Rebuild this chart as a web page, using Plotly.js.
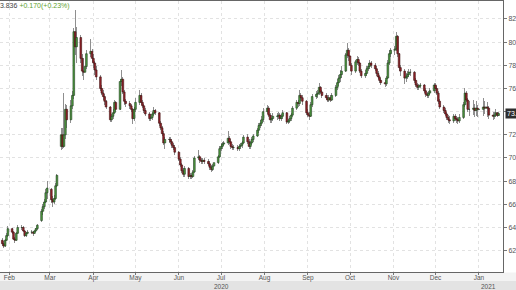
<!DOCTYPE html>
<html>
<head>
<meta charset="utf-8">
<script src="https://cdn.plot.ly/plotly-3.0.1.min.js"></script>
<style>html,body{margin:0;padding:0;background:#fff;}#chart{width:516px;height:290px;}</style>
</head>
<body>
<div id="chart"></div>
<script>
// Daily candles, Mon-Fri, starting week of 2020-01-27 (51 weeks)
const firstMonday = [2020, 0, 27];
const weekCount = 51;

const openP = [
 62.9,62.6,62.4,62.9,63.3, 63.9,63.6,63.0,62.9,63.5, 64.0,64.0,63.7,63.3,63.5, 63.6,63.6,63.5,63.7,63.9,
 64.6,65.4,65.8,66.2,67.0, 67.3,66.4,66.2,66.5,67.6, 71.0,72.0,71.0,72.0,74.2, 73.3,74.5,75.4,80.9,79.6,
 80.4,78.6,77.5,77.4,77.9, 79.0,79.2,78.6,78.2,77.6, 77.0,76.0,75.6,75.3,74.9, 74.4,73.3,73.6,73.9,74.8,
 74.2,76.6,76.8,75.7,74.9, 74.7,74.5,74.2,73.4,74.2, 74.8,75.4,74.8,74.5,74.1, 73.8,73.4,73.5,73.8,74.1,
 73.9,73.0,72.6,72.1,71.3, 71.6,71.6,71.4,71.1,70.9, 70.5,69.9,69.4,68.9,68.6, 69.1,68.4,68.5,68.4,68.8,
 70.0,70.1,69.8,69.7,69.8, 69.7,69.5,69.2,69.0,69.3, 69.6,70.1,70.8,71.0,71.2, 71.3,71.7,71.4,71.0,70.9,
 70.9,70.8,71.0,71.1,71.3, 71.8,71.4,71.0,71.3,71.6, 71.9,72.4,72.8,73.0,73.3, 74.0,74.3,73.7,73.3,73.4,
 73.6,73.6,73.7,73.4,73.6, 73.9,73.1,73.2,73.4,73.7, 74.3,74.8,74.7,75.4,75.2, 74.9,73.9,73.7,73.6,74.6,
 75.3,75.5,75.6,76.1,75.7, 75.4,75.2,75.0,75.2,75.0, 75.4,76.1,76.5,76.9,77.2, 77.5,78.9,79.3,78.8,78.0,
 77.5,78.3,78.5,78.2,77.5, 77.1,77.3,77.7,77.9,78.2, 78.0,77.7,77.3,77.0,76.7, 76.5,76.4,76.9,78.2,79.0,
 79.3,79.4,80.5,79.0,77.8, 77.5,76.9,77.0,77.2,77.4, 77.4,76.7,76.3,76.1,76.2, 76.3,75.8,75.5,75.4,75.6,
 75.8,76.3,76.0,75.6,74.9, 74.4,74.1,73.8,73.5,73.3, 73.2,73.6,73.4,73.3,73.2, 73.5,74.6,75.6,75.0,74.2,
 74.2,74.3,74.1,74.3,74.2, 74.2,74.4,74.3,74.4,74.3, 73.7,73.6,73.7,73.9,73.67
];
const highP = [
 63.1,62.8,63.0,63.5,64.1, 64.0,63.7,63.2,63.6,64.2, 64.2,64.1,63.8,63.6,63.8, 63.8,63.7,63.8,64.0,64.3,
 65.6,66.0,66.5,67.3,68.0, 67.4,66.7,66.8,67.8,68.6, 72.6,72.6,75.6,74.7,74.6, 75.0,75.8,81.2,82.8,81.3,
 80.6,79.0,78.6,78.4,79.3, 80.3,79.4,79.0,78.4,77.9, 77.2,76.3,75.9,75.5,75.0, 74.5,73.8,74.2,75.0,74.9,
 76.8,77.6,77.0,75.9,75.1, 74.9,74.7,74.3,74.4,75.2, 75.9,75.6,75.0,74.7,74.3, 74.0,73.8,74.0,74.4,74.2,
 74.0,73.2,72.8,72.3,71.8, 71.8,71.8,71.6,71.3,71.1, 70.6,70.1,69.6,69.1,69.3, 69.2,68.7,68.7,69.0,70.2,
 70.7,70.3,70.0,70.0,70.0, 69.9,69.7,69.4,69.5,69.8, 70.3,71.0,71.3,71.4,71.5, 72.3,71.9,71.6,71.2,71.1,
 71.1,71.2,71.3,71.5,72.0, 72.1,71.6,71.5,71.8,72.1, 72.6,73.0,73.3,73.6,74.3, 74.6,74.5,73.9,73.7,73.9,
 73.9,74.0,73.9,73.8,74.1, 74.0,73.4,73.6,73.9,74.5, 75.0,75.0,75.9,75.6,75.4, 75.0,74.2,74.0,74.8,75.5,
 75.8,75.9,76.5,76.2,75.9, 75.6,75.4,75.4,75.4,75.6, 76.3,76.8,77.2,77.6,77.9, 79.1,79.9,79.5,78.9,78.2,
 78.5,78.8,78.7,78.3,77.7, 77.6,77.9,78.2,78.5,78.4, 78.2,77.9,77.5,77.2,76.9, 76.7,77.1,78.5,79.3,79.5,
 79.7,80.9,80.6,79.1,78.0, 77.7,77.3,77.5,77.7,77.7, 77.5,76.9,76.5,76.4,76.5, 76.4,76.0,75.7,75.8,76.0,
 76.5,76.5,76.2,75.8,75.1, 74.6,74.3,74.0,73.7,73.6, 73.8,73.8,73.6,73.5,73.8, 74.8,76.0,75.8,75.2,74.9,
 75.0,74.7,74.9,74.6,74.5, 75.2,74.9,75.0,74.8,74.5, 74.0,74.0,74.2,74.0,74.0
];
const lowP = [
 62.4,62.2,62.3,62.8,63.2, 63.4,62.9,62.7,62.8,63.4, 63.8,63.6,63.2,63.2,63.4, 63.4,63.3,63.4,63.6,63.8,
 64.5,65.1,65.6,66.1,66.5, 66.1,65.8,66.0,66.4,67.5, 70.7,70.8,70.9,71.6,72.6, 73.0,74.2,75.1,78.9,78.2,
 78.2,77.1,76.7,77.0,77.7, 78.7,78.3,77.8,77.2,76.7, 75.8,75.4,75.0,74.6,74.2, 73.1,73.1,73.4,73.8,74.0,
 74.1,76.2,75.5,74.6,74.4, 74.2,74.0,72.9,73.2,74.0, 74.6,74.6,74.3,73.9,73.6, 73.2,73.2,73.3,73.6,73.7,
 72.8,72.4,71.9,71.1,70.8, 71.3,71.2,70.9,70.7,70.3, 69.7,69.2,68.7,68.4,68.4, 68.2,68.2,68.2,68.3,68.7,
 69.8,69.6,69.5,69.5,69.5, 69.3,69.0,68.8,68.9,69.2, 69.5,70.0,70.6,70.8,71.0, 71.1,71.2,70.8,70.7,70.7,
 70.6,70.6,70.8,70.9,71.2, 71.2,70.8,70.8,71.1,71.4, 71.8,72.2,72.6,72.8,73.1, 73.8,73.5,73.0,73.0,73.2,
 73.3,73.4,73.2,73.2,73.4, 72.9,72.9,73.0,73.2,73.5, 74.1,74.4,74.5,74.9,74.6, 73.7,73.5,73.3,73.5,74.4,
 75.1,75.2,75.4,75.5,75.2, 75.0,74.8,74.8,74.8,74.9, 75.3,75.9,76.2,76.6,76.9, 77.4,78.6,78.4,77.7,77.2,
 77.3,78.0,77.9,77.3,76.9, 76.9,77.1,77.5,77.7,77.8, 77.5,77.1,76.8,76.5,76.3, 76.1,76.2,76.8,78.0,78.7,
 78.9,79.2,78.7,77.5,77.1, 76.4,76.6,76.8,77.0,77.1, 76.5,76.1,75.9,75.9,76.0, 75.6,75.3,75.2,75.2,75.4,
 75.6,75.8,75.4,74.7,74.2, 73.9,73.6,73.3,73.0,72.9, 73.0,73.2,73.0,72.9,73.0, 73.4,74.4,74.8,74.0,73.6,
 73.7,73.5,73.6,73.5,73.9, 73.6,73.8,73.7,73.5,73.4, 73.3,73.4,73.5,73.5,73.6
];
const closeP = [
 62.6,62.4,62.9,63.3,63.9, 63.6,63.0,62.9,63.5,64.0, 64.0,63.7,63.3,63.5,63.6, 63.6,63.5,63.7,63.9,64.2,
 65.4,65.8,66.2,67.0,67.4, 66.4,66.2,66.5,67.6,68.5, 72.0,71.0,72.0,74.2,73.3, 74.5,75.4,80.9,79.6,80.4,
 78.6,77.5,77.4,77.9,79.0, 79.2,78.6,78.2,77.6,77.0, 76.0,75.6,75.3,74.9,74.4, 73.3,73.6,73.9,74.8,74.2,
 76.6,76.8,75.7,74.9,74.7, 74.5,74.2,73.4,74.2,74.8, 75.4,74.8,74.5,74.1,73.8, 73.4,73.5,73.8,74.1,73.9,
 73.0,72.6,72.1,71.3,71.6, 71.6,71.4,71.1,70.9,70.5, 69.9,69.4,68.9,68.6,69.1, 68.4,68.5,68.4,68.8,70.0,
 70.1,69.8,69.7,69.8,69.7, 69.5,69.2,69.0,69.3,69.6, 70.1,70.8,71.0,71.2,71.3, 71.7,71.4,71.0,70.9,70.9,
 70.8,71.0,71.1,71.3,71.8, 71.4,71.0,71.3,71.6,71.9, 72.4,72.8,73.0,73.3,74.0, 74.3,73.7,73.3,73.4,73.6,
 73.6,73.7,73.4,73.6,73.9, 73.1,73.2,73.4,73.7,74.3, 74.8,74.7,75.4,75.2,74.9, 73.9,73.7,73.6,74.6,75.3,
 75.5,75.6,76.1,75.7,75.4, 75.2,75.0,75.2,75.0,75.4, 76.1,76.5,76.9,77.2,77.5, 78.9,79.3,78.8,78.0,77.5,
 78.3,78.5,78.2,77.5,77.1, 77.3,77.7,77.9,78.2,78.0, 77.7,77.3,77.0,76.7,76.5, 76.4,76.9,78.2,79.0,79.3,
 79.4,80.5,79.0,77.8,77.5, 76.9,77.0,77.2,77.4,77.4, 76.7,76.3,76.1,76.2,76.3, 75.8,75.5,75.4,75.6,75.8,
 76.3,76.0,75.6,74.9,74.4, 74.1,73.8,73.5,73.3,73.2, 73.6,73.4,73.3,73.2,73.5, 74.6,75.6,75.0,74.2,74.2,
 74.3,74.1,74.3,74.2,74.2, 74.4,74.3,74.4,74.3,73.7, 73.6,73.7,73.9,73.67,73.836
];

const lastPrice = "73.836";
const changeText = "+0.170(+0.23%)";
const yearLabels = ["2020", "2021"];
const yearLabelDates = ["2020-07-01", "2021-01-08"];

// trading dates (weekdays)
const dates = [];
for (let w = 0; w < weekCount; w++) {
  for (let d = 0; d < 5; d++) {
    const dt = new Date(Date.UTC(firstMonday[0], firstMonday[1], firstMonday[2] + w * 7 + d));
    dates.push(dt.toISOString().slice(0, 10));
  }
}
const bodyLow = openP.map((o, i) => Math.min(o, closeP[i]));
const bodyLen = openP.map((o, i) => Math.abs(closeP[i] - o));
const wickLen = highP.map((h, i) => h - lowP[i]);
const isUp = openP.map((o, i) => closeP[i] >= o);

const DAY = 86400000;
const wicks = {
  type: 'bar', x: dates, base: lowP, y: wickLen,
  width: DAY * 0.7,
  marker: {color: '#8f8f8f', line: {width: 0}},
  hoverinfo: 'skip', showlegend: false
};
const bodies = {
  type: 'bar', x: dates, base: bodyLow, y: bodyLen,
  width: DAY * 1.2,
  marker: {
    color: isUp.map(u => u ? '#4f9e3f' : '#97232a'),
    line: {color: isUp.map(u => u ? '#1e3a1e' : '#3a0f0f'), width: 0.6}
  },
  hoverinfo: 'skip', showlegend: false
};

const H = 290, B = 18, T = 1;
const ph = H - B - T;
function py(p) { return (H - B - p) / ph; }

const layout = {
  width: 516, height: 290,
  margin: {l: 0, r: 13, t: T, b: B, pad: 0},
  paper_bgcolor: '#ffffff', plot_bgcolor: '#ffffff',
  font: {family: 'Liberation Sans, Arial, sans-serif', size: 7, color: '#555'},
  showlegend: false, barmode: 'overlay', bargap: 0,
  xaxis: {
    type: 'date', range: ['2020-01-25 09:00', '2021-01-18 03:00'],
    dtick: 'M1', tick0: '2020-01-01', tickformat: '%b',
    ticks: 'outside', ticklen: 2, tickcolor: '#777', ticklabelstandoff: -3,
    showgrid: true, gridcolor: '#e2e2e2', griddash: 'dot', gridwidth: 1,
    showline: true, linecolor: '#666', linewidth: 1, mirror: true,
    tickfont: {size: 6.5, color: '#555'}, zeroline: false, fixedrange: true
  },
  yaxis: {
    side: 'right', range: [60.16, 83.55], dtick: 2, tick0: 60, tickformat: '.1f',
    ticks: 'outside', ticklen: 3, tickcolor: '#777',
    showgrid: true, gridcolor: '#e2e2e2', griddash: 'dot', gridwidth: 1,
    showline: true, linecolor: '#666', linewidth: 1,
    tickfont: {size: 7, color: '#555'}, zeroline: false, fixedrange: true
  },
  shapes: [
    {type: 'rect', xref: 'paper', yref: 'paper', x0: -0.01, x1: 1.05, y0: py(281), y1: py(272.5),
     fillcolor: '#f3f3f3', line: {width: 0}, layer: 'below'},
    {type: 'rect', xref: 'paper', yref: 'paper', x0: -0.01, x1: 1.05, y0: py(291), y1: py(281),
     fillcolor: '#e3e3e3', line: {width: 0}, layer: 'below'}
  ],
  annotations: [
    {xref: 'paper', yref: 'paper', x: 0, y: 1, xanchor: 'left', yanchor: 'top', xshift: -5, yshift: 0,
     text: '<span style="color:#444">7' + lastPrice.slice(1) + '</span> <span style="color:#5f9f2f">' + changeText + '</span>',
     showarrow: false, font: {size: 7}, borderpad: 0},
    {xref: 'paper', yref: 'y', x: 1, y: parseFloat(lastPrice), xanchor: 'left', yanchor: 'middle', xshift: 2,
     text: lastPrice, showarrow: false, bgcolor: '#2e2e2e', font: {size: 7, color: '#ffffff'}, borderpad: 1},
    {xref: 'x', yref: 'paper', x: yearLabelDates[0], y: py(286), xanchor: 'center', yanchor: 'middle',
     text: yearLabels[0], showarrow: false, font: {size: 6.5, color: '#555'}},
    {xref: 'x', yref: 'paper', x: yearLabelDates[1], y: py(286), xanchor: 'center', yanchor: 'middle',
     text: yearLabels[1], showarrow: false, font: {size: 6.5, color: '#555'}}
  ]
};

Plotly.newPlot('chart', [wicks, bodies], layout, {staticPlot: true, displayModeBar: false});
</script>
</body>
</html>
